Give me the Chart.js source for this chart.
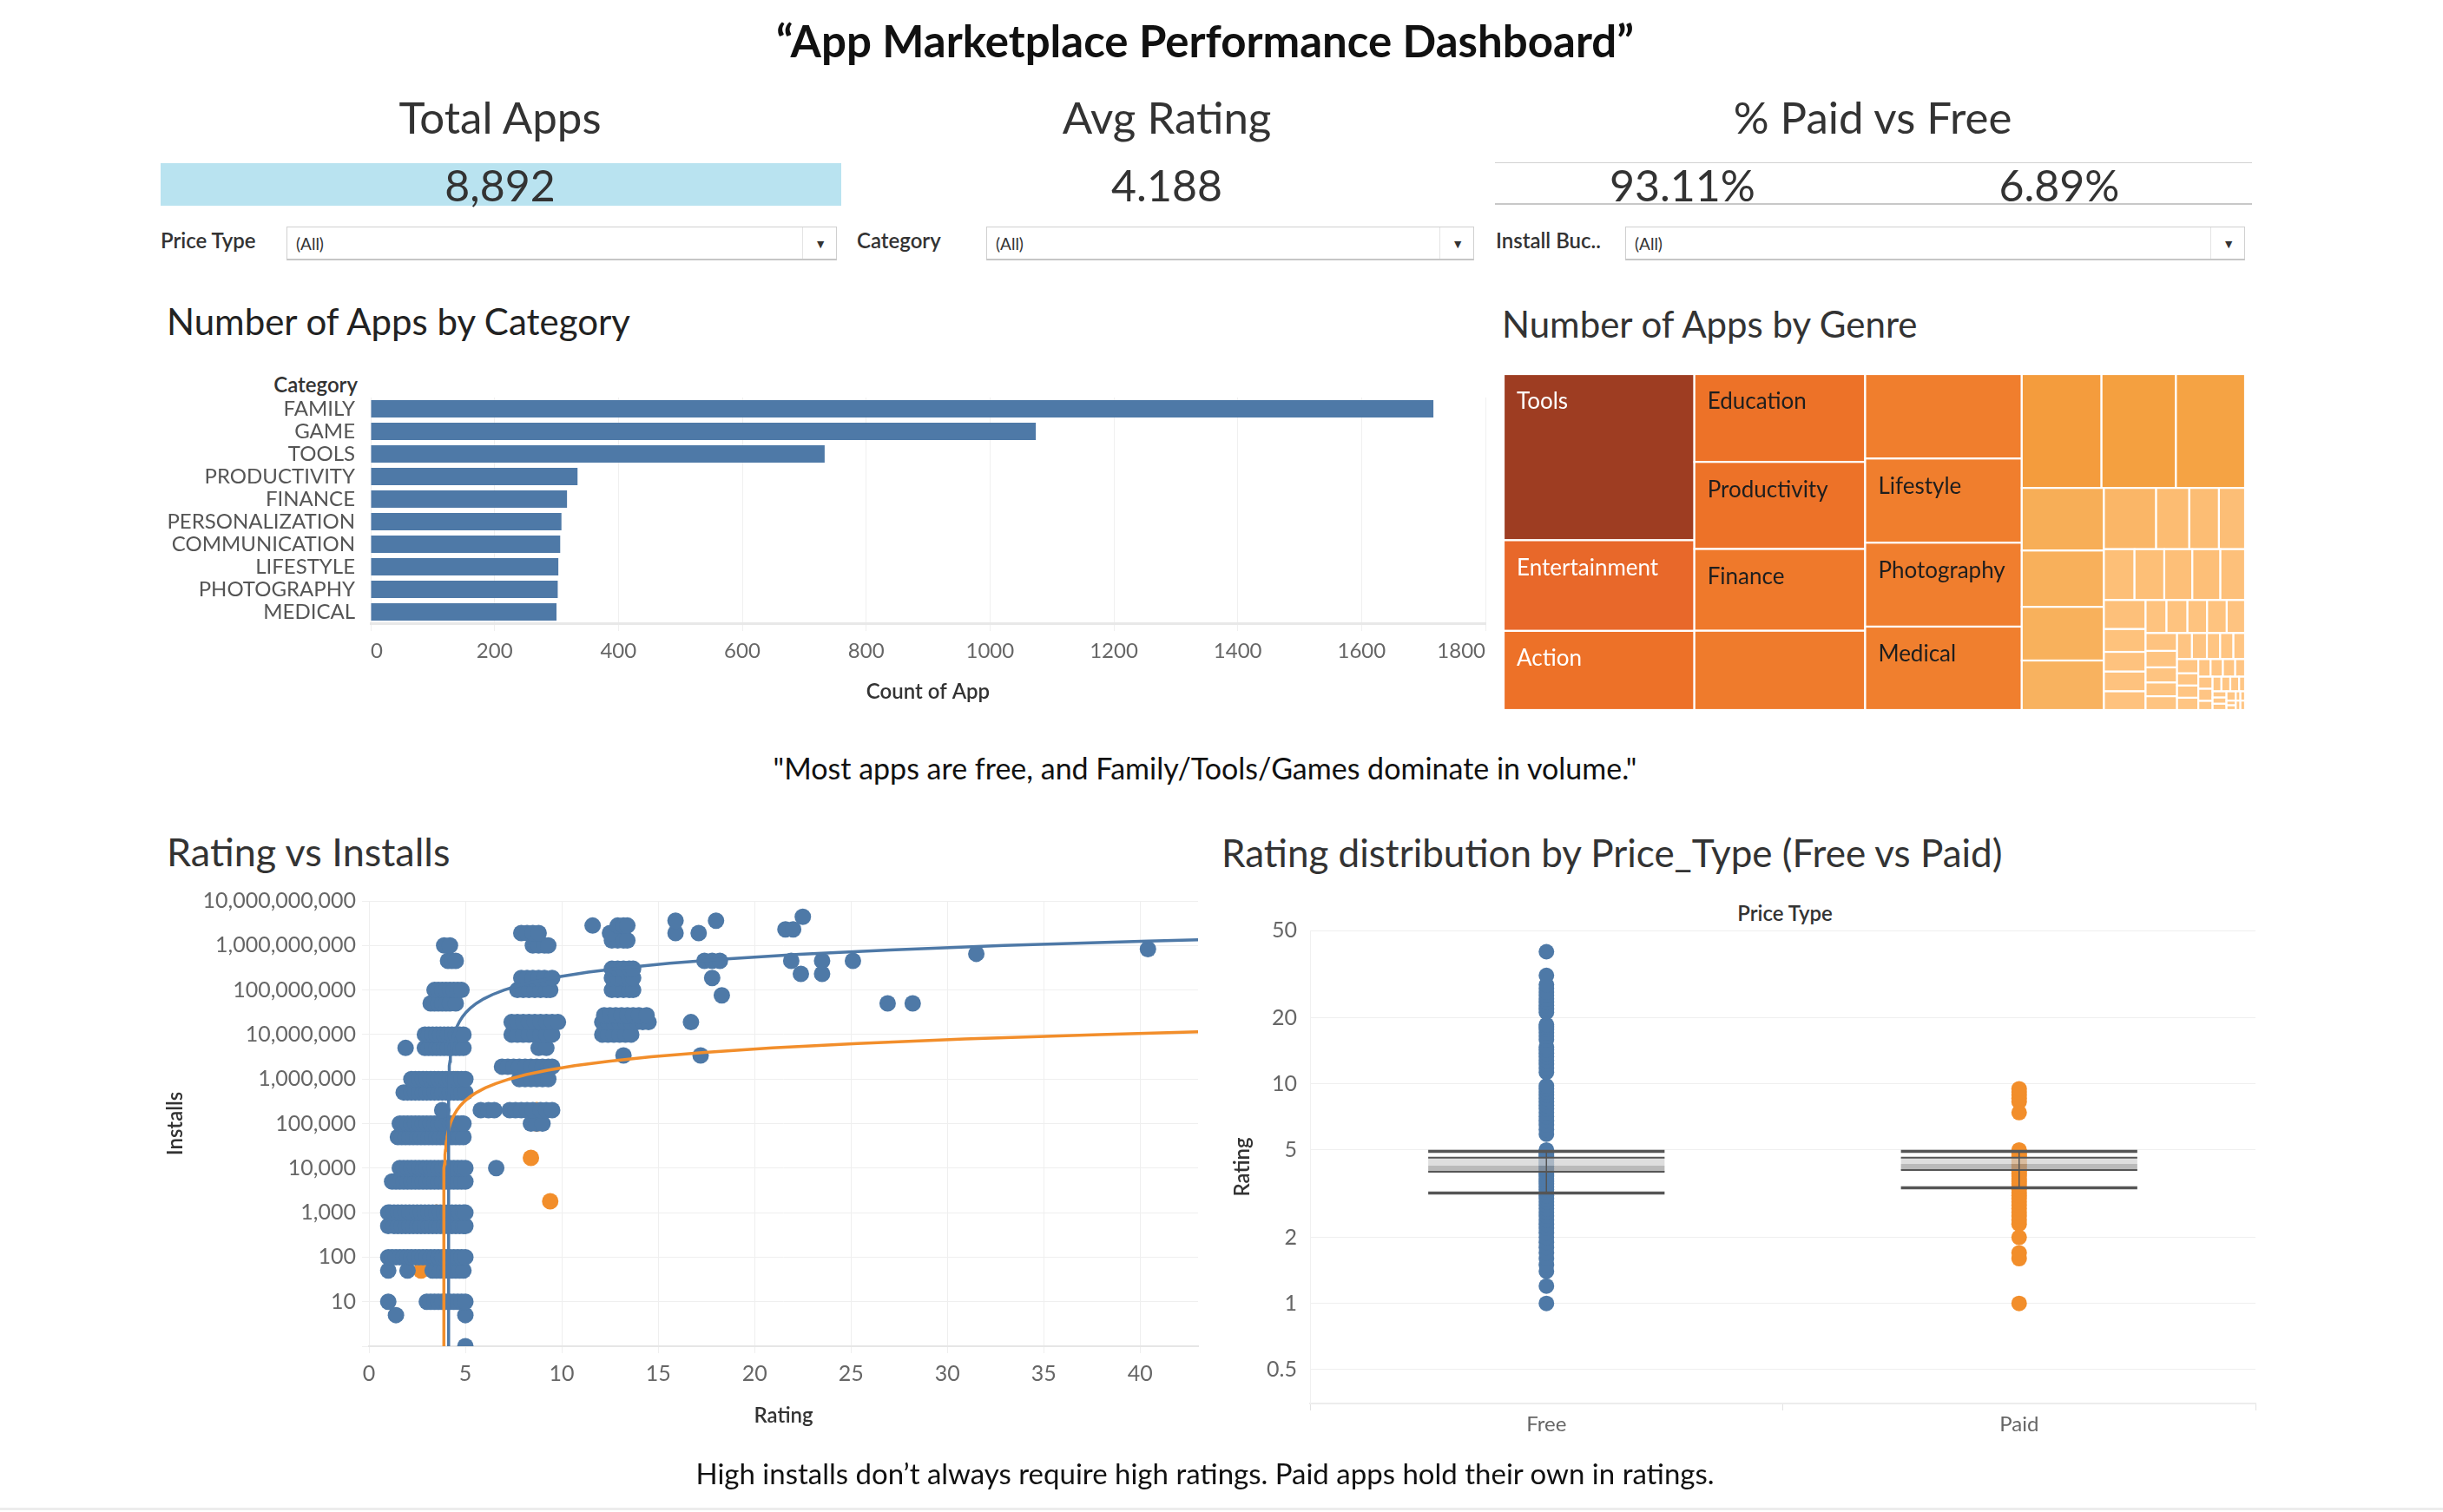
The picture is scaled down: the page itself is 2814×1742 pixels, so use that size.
<!DOCTYPE html>
<html><head><meta charset="utf-8">
<script src="https://cdn.jsdelivr.net/npm/chart.js@4.4.1/dist/chart.umd.min.js"></script>
<style>
html,body{margin:0;padding:0;background:#fff;}
#page{position:relative;width:2814px;height:1742px;overflow:hidden;font-family:Lato,"Open Sans",sans-serif;color:#333;}
.t{position:absolute;white-space:nowrap;line-height:1.15;}
.c{transform:translate(-50%,-50%);}
.l{transform:translate(0,-50%);}
.r{transform:translate(-100%,-50%);}
canvas{position:absolute;}
.dd{position:absolute;box-sizing:border-box;border:1px solid #d0d0d0;border-bottom:2px solid #c6c6c6;background:#fff;height:39px;}
.dd .v{position:absolute;left:10px;top:50%;transform:translateY(-50%);font-size:19px;color:#333;}
.dd .dv{position:absolute;right:38px;top:0;bottom:0;border-left:1px solid #e4e4e4;}
.dd .ar{position:absolute;right:11px;top:50%;transform:translateY(-50%);font-size:14px;color:#333;}
.flab{font-size:24px;font-weight:600;color:#333;}
.kt{font-size:51px;color:#333;}
.kv{font-size:50px;color:#333;}
.sec{font-size:42px;color:#222;}
</style></head>
<body><div id="page">
<div class="t c" style="left:1388px;top:47px;font-size:51px;font-weight:700;color:#111;">“App Marketplace Performance Dashboard”</div>

<div class="t c kt" style="left:576px;top:135px;">Total Apps</div>
<div class="t c kt" style="left:1344px;top:135px;">Avg Rating</div>
<div class="t c kt" style="left:2157px;top:135px;">% Paid vs Free</div>
<div style="position:absolute;left:185px;top:188px;width:784px;height:49px;background:#b9e3f0;"></div>
<div class="t c kv" id="kTotal" style="left:576px;top:214px;"></div>
<div class="t c kv" id="kAvg" style="left:1344px;top:214px;"></div>
<div style="position:absolute;left:1722px;top:187px;width:872px;height:0;border-top:1px solid #d2d2d2;"></div>
<div style="position:absolute;left:1722px;top:234px;width:872px;height:0;border-top:2px solid #c8c8c8;"></div>
<div class="t c kv" id="kFree" style="left:1938px;top:214px;"></div>
<div class="t c kv" id="kPaid" style="left:2372px;top:214px;"></div>

<div class="t l flab" style="left:185px;top:277px;">Price Type</div>
<div class="dd" style="left:330px;top:261px;width:634px;"><span class="v">(All)</span><span class="dv"></span><span class="ar">▼</span></div>
<div class="t l flab" style="left:987px;top:277px;">Category</div>
<div class="dd" style="left:1136px;top:261px;width:562px;"><span class="v">(All)</span><span class="dv"></span><span class="ar">▼</span></div>
<div class="t l flab" style="left:1723px;top:277px;">Install Buc..</div>
<div class="dd" style="left:1872px;top:261px;width:714px;"><span class="v">(All)</span><span class="dv"></span><span class="ar">▼</span></div>

<div class="t l sec" style="left:192px;top:370px;">Number of Apps by Category</div>
<div class="t r" style="left:412px;top:443px;font-size:24px;font-weight:600;color:#333;">Category</div>
<canvas id="barChart" width="1601" height="420" style="left:150px;top:420px;"></canvas>

<div class="t l sec" style="left:1730px;top:373px;color:#333;">Number of Apps by Genre</div>
<canvas id="treeChart" width="854" height="387" style="left:1732px;top:431px;"></canvas>

<div class="t c" style="left:1388px;top:885px;font-size:34px;color:#111;">"Most apps are free, and Family/Tools/Games dominate in volume."</div>

<div class="t l sec" style="left:192px;top:982px;color:#333;font-size:45px;">Rating vs Installs</div>
<canvas id="scatterChart" width="1250" height="680" style="left:150px;top:1000px;"></canvas>

<div class="t l sec" style="left:1407px;top:982px;color:#333;font-size:44px;">Rating distribution by Price_Type (Free vs Paid)</div>
<div class="t c" style="left:2056px;top:1052px;font-size:24px;font-weight:600;color:#333;">Price Type</div>
<canvas id="boxChart" width="1214" height="650" style="left:1400px;top:1030px;"></canvas>

<div class="t c" style="left:1388px;top:1698px;font-size:33px;color:#111;">High installs don’t always require high ratings. Paid apps hold their own in ratings.</div>
<div style="position:absolute;left:0;top:1737px;width:2814px;height:3px;background:#ececec;"></div>
</div>
<script>
// ---------------- KPI values ----------------
const totalApps = 8892;
const avgRating = 4.188;
const pctFree = 93.11;
const pctPaid = 6.89;

// ---------------- Bar chart: apps by category ----------------
const categories = ['FAMILY','GAME','TOOLS','PRODUCTIVITY','FINANCE','PERSONALIZATION','COMMUNICATION','LIFESTYLE','PHOTOGRAPHY','MEDICAL'];
const categoryCounts = [1716, 1074, 733, 334, 317, 308, 306, 303, 302, 300];

// ---------------- Treemap: apps by genre ----------------
const genres = ['Tools','Entertainment','Action','Education','Productivity','Finance','Personalization','Communication','Lifestyle','Photography','Medical',
  'Sports','Business','Health & Fitness','Social','News & Magazines','Travel & Local','Shopping','Books & Reference','Simulation','Dating','Arcade',
  'Video Players & Editors','Casual','Maps & Navigation','Food & Drink','Puzzle','Racing','Role Playing','Libraries & Demo','Auto & Vehicles','Strategy',
  'House & Home','Weather','Events','Adventure','Comics','Beauty','Art & Design','Parenting','Card','Casino','Educational','Trivia','Board','Music','Word',
  'Casual;Pretend Play','Educational;Education','Puzzle;Brain Games','Entertainment;Music & Video','Casual;Action & Adventure','Arcade;Action & Adventure',
  'Action;Action & Adventure','Education;Pretend Play','Simulation;Education','Board;Brain Games','Role Playing;Pretend Play','Sports;Action & Adventure',
  'Education;Creativity','Casual;Brain Games','Adventure;Action & Adventure','Racing;Action & Adventure','Educational;Pretend Play','Art & Design;Creativity',
  'Music;Music & Video','Strategy;Action & Adventure','Puzzle;Action & Adventure','Card;Action & Adventure','Health & Fitness;Education','Comics;Creativity',
  'Lifestyle;Pretend Play'];
const genreCounts = [733, 400, 349, 347, 344, 323, 313, 306, 305, 304, 302,
  210, 196, 182, 119, 107, 102, 94, 74, 47, 42, 37,
  36, 35, 33, 33, 29, 28, 22, 19, 19, 18,
  16, 16, 15, 15, 14, 13, 12, 11, 10, 10, 9, 9, 8, 8, 7,
  7, 6, 6, 6, 5, 5,
  5, 4, 4, 4, 3, 3,
  3, 3, 2, 2, 2, 2,
  2, 1, 1, 1, 1, 1,
  1];
const labelledGenres = ['Tools','Entertainment','Action','Education','Productivity','Finance','Lifestyle','Photography','Medical'];

// ---------------- Scatter: rating vs installs ----------------
// [installs, [ratings...]]
const freeScatter = [
  [1, [5.0]],
  [5, [1.4, 5.0]],
  [10, [1.0, 3.0, 3.2, 3.4, 3.6, 3.8, 4.0, 4.2, 4.4, 4.6, 4.8, 5.0]],
  [50, [1.0, 2.0, 3.3, 3.5, 3.7, 3.9, 4.1, 4.3, 4.5, 4.7, 4.9]],
  [100, [1.0, 1.2, 1.4, 1.6, 1.8, 2.0, 2.2, 2.4, 2.6, 2.8, 3.0, 3.2, 3.4, 3.6, 3.8, 4.0, 4.2, 4.4, 4.6, 4.8, 5.0]],
  [500, [1.0, 1.3, 1.5, 1.7, 1.9, 2.1, 2.3, 2.5, 2.7, 2.9, 3.1, 3.3, 3.5, 3.7, 3.9, 4.1, 4.3, 4.5, 4.7, 4.9, 5.0]],
  [1000, [1.0, 1.1, 1.3, 1.5, 1.7, 1.9, 2.1, 2.3, 2.5, 2.7, 2.9, 3.1, 3.3, 3.5, 3.7, 3.9, 4.1, 4.3, 4.5, 4.7, 4.9, 5.0]],
  [5000, [1.2, 1.4, 1.6, 1.8, 2.0, 2.2, 2.4, 2.6, 2.8, 3.0, 3.2, 3.4, 3.6, 3.8, 4.0, 4.2, 4.4, 4.6, 4.8, 5.0]],
  [10000, [1.6, 1.8, 2.0, 2.2, 2.4, 2.6, 2.8, 3.0, 3.2, 3.4, 3.6, 3.8, 4.0, 4.2, 4.4, 4.6, 4.8, 5.0, 6.6]],
  [50000, [1.5, 1.7, 1.9, 2.1, 2.3, 2.5, 2.7, 2.9, 3.1, 3.3, 3.5, 3.7, 3.9, 4.1, 4.3, 4.5, 4.7, 4.9]],
  [100000, [1.6, 1.8, 2.0, 2.2, 2.4, 2.6, 2.8, 3.0, 3.2, 3.4, 3.6, 3.8, 4.0, 4.2, 4.4, 4.6, 4.8, 4.9, 8.4, 8.7, 9.0]],
  [200000, [3.8, 5.8, 6.2, 6.5, 7.3, 7.6, 7.9, 8.2, 8.5, 8.9, 9.2, 9.5]],
  [500000, [1.8, 2.0, 2.2, 2.4, 2.6, 2.8, 3.0, 3.2, 3.4, 3.6, 3.8, 4.0, 4.2, 4.4, 4.6, 4.8, 5.0]],
  [1000000, [2.2, 2.4, 2.6, 2.8, 3.0, 3.2, 3.4, 3.6, 3.8, 4.0, 4.2, 4.4, 4.6, 4.8, 5.0, 7.8, 8.1, 8.4, 8.7, 9.0, 9.3]],
  [1900000, [6.9, 7.2, 7.5, 7.8, 8.1, 8.4, 8.7, 9.0, 9.3, 9.5]],
  [3400000, [13.2, 17.2]],
  [5000000, [1.9, 2.9, 3.1, 3.3, 3.5, 3.7, 3.9, 4.1, 4.3, 4.5, 4.7, 4.9, 8.8, 9.2]],
  [10000000, [2.9, 3.1, 3.3, 3.5, 3.7, 3.9, 4.1, 4.3, 4.5, 4.7, 4.9, 7.4, 7.7, 8.0, 8.3, 8.6, 8.9, 9.2, 9.5, 12.1, 12.4, 12.7, 13.0, 13.3, 13.6]],
  [19000000, [7.4, 7.7, 8.0, 8.3, 8.6, 8.9, 9.2, 9.5, 9.8, 12.1, 12.4, 12.7, 13.0, 13.3, 13.6, 13.9, 14.2, 14.5, 16.7]],
  [27000000, [12.2, 12.5, 12.8, 13.1, 13.4, 13.7, 14.0, 14.4]],
  [50000000, [3.2, 3.4, 3.6, 3.8, 4.0, 4.2, 4.5, 26.9, 28.2]],
  [76000000, [18.3]],
  [100000000, [3.4, 3.6, 3.8, 4.0, 4.2, 4.4, 4.6, 4.8, 7.7, 8.0, 8.3, 8.6, 8.9, 9.2, 9.4, 12.6, 12.9, 13.2, 13.5, 13.7]],
  [186000000, [7.9, 8.2, 8.5, 8.8, 9.1, 9.5, 12.6, 12.9, 13.2, 13.5, 13.7, 17.8]],
  [230000000, [22.4, 23.5]],
  [300000000, [12.6, 12.9, 13.2, 13.5, 13.7]],
  [450000000, [4.1, 4.3, 4.5, 17.4, 17.8, 18.2, 21.9, 23.5, 25.1]],
  [650000000, [31.5]],
  [830000000, [40.4]],
  [1000000000, [3.9, 4.2, 8.5, 8.8, 9.1, 9.3]],
  [1300000000, [12.6, 12.9, 13.2, 13.4]],
  [1900000000, [7.9, 8.2, 8.5, 8.8, 12.5, 15.9, 17.1]],
  [2300000000, [21.6, 22.0]],
  [2800000000, [11.6, 12.9, 13.2, 13.4]],
  [3600000000, [15.9, 18.0]],
  [4400000000, [22.5]]
];
const paidScatter = [
  [50, [2.7]],
  [1000, [3.5]],
  [1800, [9.4]],
  [17000, [8.4]],
  [100000, [4.3, 8.7]],
  [200000, [8.7]],
  [1000000, [4.5]]
];
// linear trend lines (Installs = slope * Rating + intercept)
const freeTrend = { slope: 3.47e7, intercept: -1.433e8 };
const paidTrend = { slope: 2.94e5, intercept: -1.141e6 };
const ratingAxisMax = 43;

// ---------------- Box plot: rating by price type ----------------
const priceTypes = ['Free', 'Paid'];
const freeRatingsBox = [1.0, 1.2, 1.4, 1.5, 1.6, 1.7, 1.8, 1.9, 2.0, 2.1, 2.2, 2.3, 2.4, 2.5, 2.6, 2.7, 2.8, 2.9, 3.0, 3.1, 3.2, 3.3, 3.4, 3.5, 3.6, 3.7, 3.8, 3.9, 4.0, 4.1, 4.2, 4.3, 4.4, 4.5, 4.6, 4.7, 4.8, 4.9, 5.0,
  5.9, 6.2, 6.5, 6.8, 7.1, 7.4, 7.7, 8.0, 8.3, 8.6, 8.9, 9.2, 9.5, 9.8, 11.3, 11.8, 12.3, 12.8, 13.3, 13.8, 14.3, 14.7,
  15.9, 16.5, 17.1, 17.7, 18.2, 18.6, 21.2, 22.0, 22.8, 23.6, 24.4, 25.3, 26.2, 27.2, 28.3, 31.2, 40.0];
const paidRatingsBox = [1.0, 1.6, 1.7, 2.0, 2.3, 2.4, 2.5, 2.6, 2.7, 2.8, 2.9, 3.0, 3.1, 3.2, 3.3, 3.4, 3.5, 3.6, 3.7, 3.8, 3.9, 4.0, 4.1, 4.2, 4.3, 4.4, 4.5, 4.6, 4.7, 4.8, 4.9, 5.0,
  7.4, 8.3, 8.6, 8.9, 9.2, 9.5];
const boxLowerWhisker = [3.18, 3.36];
const boxQ1 = [3.98, 4.05];
const boxMedian = [4.24, 4.32];
const boxQ3 = [4.61, 4.61];
const boxUpperWhisker = [4.93, 4.93];
const ratingTickValues = [0.5, 1, 2, 5, 10, 20, 50];

// ---------------- rendering ----------------
document.getElementById('kTotal').textContent = totalApps.toLocaleString('en-US');
document.getElementById('kAvg').textContent = avgRating.toFixed(3);
document.getElementById('kFree').textContent = pctFree.toFixed(2) + '%';
document.getElementById('kPaid').textContent = pctPaid.toFixed(2) + '%';

Chart.defaults.font.family = 'Lato, "Open Sans", sans-serif';
Chart.defaults.animation = false;
Chart.defaults.responsive = false;
Chart.defaults.devicePixelRatio = 1;
Chart.defaults.plugins.legend.display = false;
Chart.defaults.plugins.tooltip.enabled = false;

const BLUE = '#4e79a7', ORANGE = '#f28e2b';
const tickGray = '#666', gridGray = '#efefef';

// Bar chart
new Chart(document.getElementById('barChart'), {
  type: 'bar',
  data: { labels: categories, datasets: [{ data: categoryCounts, backgroundColor: BLUE, barPercentage: 0.77, categoryPercentage: 1 }] },
  options: {
    indexAxis: 'y',
    layout: { padding: { top: 38, right: 40, left: 0, bottom: 0 } },
    scales: {
      x: { min: 0, max: 1800, ticks: { stepSize: 200, color: tickGray, font: { size: 24 }, padding: 9, maxRotation: 0, align: 'inner', callback: v => String(v) },
           grid: { color: '#f0f0f0', tickColor: '#f0f0f0', tickLength: 9 },
           border: { display: true, color: '#e8e8e8', width: 3 },
           title: { display: true, text: 'Count of App', color: '#333', font: { size: 24, weight: '600' }, padding: { top: 10, bottom: 28 } },
           afterFit(s) { s.height = 122; } },
      y: { ticks: { color: '#555', font: { size: 24 }, padding: 10, autoSkip: false },
           grid: { display: false }, border: { display: false },
           afterFit(s) { s.width = 277; } }
    }
  }
});

// Treemap (cells laid out from genreCounts, drawn through the chart's linear scales)
const TM_W = 854, TM_H = 387;
function squarify(values, x, y, w, h, maxRatio) {
  const rects = [];
  let i = 0;
  while (i < values.length) {
    let remaining = 0; for (let k = i; k < values.length; k++) remaining += values[k];
    const scale = (w * h) / remaining;
    const vertical = w >= h;
    const side = vertical ? h : w;
    const worstOf = (n) => {
      let s = 0; for (let k = i; k < i + n; k++) s += values[k];
      const t = s * scale / side; let wr = 0;
      for (let k = i; k < i + n; k++) { const len = values[k] * scale / t; wr = Math.max(wr, t / len, len / t); }
      return wr;
    };
    let n = 1, cur = worstOf(1);
    while (i + n < values.length) {
      const nw = worstOf(n + 1);
      if (nw <= cur || nw <= maxRatio) { n++; cur = nw; } else break;
    }
    let s = 0; for (let k = i; k < i + n; k++) s += values[k];
    const t = s * scale / side;
    let off = 0;
    for (let k = i; k < i + n; k++) {
      const len = values[k] * scale / t;
      if (vertical) rects.push({ x0: x, y0: y + off, x1: x + t, y1: y + off + len, idx: k });
      else rects.push({ x0: x + off, y0: y, x1: x + off + len, y1: y + t, idx: k });
      off += len;
    }
    if (vertical) { x += t; w -= t; } else { y += t; h -= t; }
    i += n;
  }
  return rects;
}
const treemapRamp = [[0, '#ffc685'], [0.135, '#f8b15d'], [0.27, '#f4a03f'], [0.41, '#f07f2e'], [0.47, '#ed7228'], [0.545, '#e8682a'], [1, '#9e3d22']];
function hexToRgb(h) { return [parseInt(h.slice(1, 3), 16), parseInt(h.slice(3, 5), 16), parseInt(h.slice(5, 7), 16)]; }
function rampColor(t) {
  for (let k = 1; k < treemapRamp.length; k++) {
    if (t <= treemapRamp[k][0]) {
      const [t0, c0] = treemapRamp[k - 1], [t1, c1] = treemapRamp[k];
      const f = (t - t0) / (t1 - t0), a = hexToRgb(c0), b = hexToRgb(c1);
      return 'rgb(' + a.map((v, j) => Math.round(v + (b[j] - v) * f)).join(',') + ')';
    }
  }
  return treemapRamp[treemapRamp.length - 1][1];
}
const treemapPlugin = {
  id: 'treemapCells',
  afterDraw(chart) {
    const { ctx, scales: { x, y } } = chart;
    const rects = squarify(genreCounts, 0, 0, TM_W, TM_H, 2.5);
    const vmin = Math.min(...genreCounts), vmax = Math.max(...genreCounts);
    ctx.save();
    rects.forEach(r => {
      const v = genreCounts[r.idx];
      const px0 = x.getPixelForValue(r.x0), px1 = x.getPixelForValue(r.x1);
      const py0 = y.getPixelForValue(r.y0), py1 = y.getPixelForValue(r.y1);
      ctx.fillStyle = rampColor((v - vmin) / (vmax - vmin));
      ctx.fillRect(px0, py0, px1 - px0, py1 - py0);
      ctx.strokeStyle = '#ffffff'; ctx.lineWidth = 2.2;
      ctx.strokeRect(px0, py0, px1 - px0, py1 - py0);
      const name = genres[r.idx];
      if (labelledGenres.includes(name)) {
        ctx.fillStyle = v >= 348 ? '#ffffff' : '#1e1e1e';
        ctx.font = '26px Lato, "Open Sans", sans-serif';
        ctx.textBaseline = 'middle'; ctx.textAlign = 'left';
        ctx.fillText(name, px0 + 15, py0 + 32);
      }
    });
    ctx.restore();
  }
};
new Chart(document.getElementById('treeChart'), {
  type: 'scatter',
  data: { datasets: [{ data: [] }] },
  options: {
    layout: { padding: 0 },
    scales: { x: { type: 'linear', min: 0, max: TM_W, display: false }, y: { type: 'linear', min: 0, max: TM_H, reverse: true, display: false } }
  },
  plugins: [treemapPlugin]
});

// Scatter
function bandsToPoints(bands) {
  const pts = [];
  bands.forEach(([inst, ratings]) => ratings.forEach(r => pts.push({ x: r, y: inst })));
  return pts;
}
function trendPoints(tr, xMax) {
  const pts = [];
  const x0 = -tr.intercept / tr.slope;
  for (let k = 0; k < 400; k++) {
    const xv = x0 + Math.pow(10, k / 10) / tr.slope;
    if (xv >= xMax) break;
    pts.push({ x: xv, y: tr.slope * xv + tr.intercept });
  }
  pts.push({ x: xMax, y: tr.slope * xMax + tr.intercept });
  return pts;
}
const isPow10 = v => v > 0 && Math.abs(Math.log10(v) - Math.round(Math.log10(v))) < 1e-9;
new Chart(document.getElementById('scatterChart'), {
  type: 'scatter',
  data: {
    datasets: [
      { type: 'line', data: trendPoints(freeTrend, ratingAxisMax), borderColor: BLUE, borderWidth: 3.5, pointRadius: 0, fill: false, tension: 0, order: 0 },
      { type: 'line', data: trendPoints(paidTrend, ratingAxisMax), borderColor: ORANGE, borderWidth: 3.5, pointRadius: 0, fill: false, tension: 0, order: 0 },
      { data: bandsToPoints(freeScatter), backgroundColor: BLUE, borderWidth: 0, pointRadius: 9.5, order: 1 },
      { data: bandsToPoints(paidScatter), backgroundColor: ORANGE, borderWidth: 0, pointRadius: 9.5, order: 2 }
    ]
  },
  options: {
    layout: { padding: { top: 38, right: 20, left: 0, bottom: 0 } },
    scales: {
      x: { type: 'linear', min: 0, max: ratingAxisMax,
           ticks: { stepSize: 5, color: tickGray, font: { size: 25 }, padding: 9, maxRotation: 0,
                    callback: v => (Math.abs(v % 5) < 1e-9 ? String(v) : null) },
           grid: { color: gridGray, tickColor: gridGray, tickLength: 8 },
           border: { display: true, color: '#e6e6e6', width: 2 },
           title: { display: true, text: 'Rating', color: '#333', font: { size: 24, weight: '600' }, padding: { top: 10, bottom: 34 } },
           afterFit(s) { s.height = 129; } },
      y: { type: 'logarithmic', min: 1, max: 1e10,
           ticks: { color: tickGray, font: { size: 25 }, padding: 7, autoSkip: false,
                    callback: v => (isPow10(v) ? (v >= 10 ? Number(v).toLocaleString('en-US') : '') : null) },
           grid: { color: gridGray, tickColor: gridGray, tickLength: 8 },
           border: { display: false },
           title: { display: true, text: 'Installs', color: '#333', font: { size: 24, weight: '600' }, padding: { top: 38, bottom: 0 } },
           afterFit(s) { s.width = 275; } }
    }
  }
});

// Box plot
const whiskerPlugin = {
  id: 'boxWhiskers',
  afterDatasetsDraw(chart) {
    const { ctx, scales: { y } } = chart;
    const meta = chart.getDatasetMeta(0);
    ctx.save();
    ctx.strokeStyle = '#555555';
    priceTypes.forEach((p, i) => {
      const el = meta.data[i];
      const cx = el.x, hw = el.width / 2;
      const hline = (v, lw) => { const py = y.getPixelForValue(v); ctx.lineWidth = lw; ctx.beginPath(); ctx.moveTo(cx - hw, py); ctx.lineTo(cx + hw, py); ctx.stroke(); };
      ctx.lineWidth = 1.5; ctx.beginPath();
      ctx.moveTo(cx, y.getPixelForValue(boxUpperWhisker[i])); ctx.lineTo(cx, y.getPixelForValue(boxLowerWhisker[i])); ctx.stroke();
      hline(boxUpperWhisker[i], 3.5);
      hline(boxQ3[i], 2);
      hline(boxQ1[i], 2);
      hline(boxLowerWhisker[i], 3.5);
    });
    ctx.restore();
  }
};
new Chart(document.getElementById('boxChart'), {
  type: 'bar',
  data: {
    labels: priceTypes,
    datasets: [
      { type: 'bar', data: priceTypes.map((p, i) => [boxQ1[i], boxMedian[i]]), backgroundColor: 'rgba(150,150,150,0.66)', barPercentage: 0.5, categoryPercentage: 1, grouped: false, order: 0 },
      { type: 'bar', data: priceTypes.map((p, i) => [boxMedian[i], boxQ3[i]]), backgroundColor: 'rgba(208,208,208,0.7)', barPercentage: 0.5, categoryPercentage: 1, grouped: false, order: 0 },
      { type: 'line', data: freeRatingsBox.map(r => ({ x: 'Free', y: r })), showLine: false, pointRadius: 9, pointBackgroundColor: BLUE, pointBorderWidth: 0, order: 1 },
      { type: 'line', data: paidRatingsBox.map(r => ({ x: 'Paid', y: r })), showLine: false, pointRadius: 9, pointBackgroundColor: ORANGE, pointBorderWidth: 0, order: 1 }
    ]
  },
  options: {
    layout: { padding: { top: 42, right: 16, left: 0, bottom: 0 } },
    scales: {
      x: { ticks: { color: tickGray, font: { size: 24 }, padding: 2 },
           grid: { drawOnChartArea: false, tickColor: '#e2e2e2', tickLength: 8, offset: true },
           border: { display: true, color: '#ececec', width: 2 },
           afterFit(s) { s.height = 63; } },
      y: { type: 'logarithmic', min: 0.35, max: 50,
           ticks: { color: tickGray, font: { size: 25 }, padding: 15, autoSkip: false,
                    callback: v => (ratingTickValues.some(t => Math.abs(t - v) < 1e-9) ? String(v) : null) },
           grid: { color: gridGray, drawTicks: false },
           border: { display: true, color: '#f0f0f0' },
           title: { display: true, text: 'Rating', color: '#333', font: { size: 24, weight: '600' }, padding: { top: 17, bottom: 0 } },
           afterFit(s) { s.width = 109; } }
    }
  },
  plugins: [whiskerPlugin]
});
</script>
</body></html>
